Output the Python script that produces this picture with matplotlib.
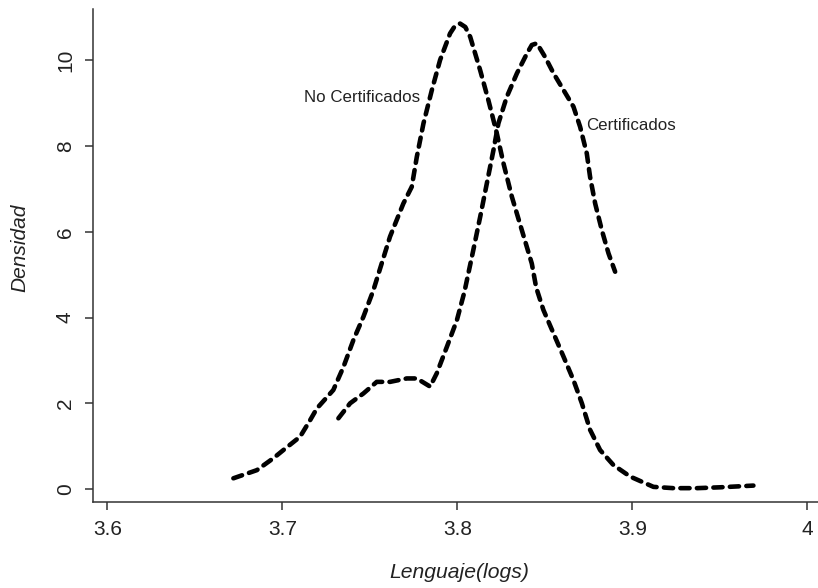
import matplotlib
matplotlib.use("Agg")
import matplotlib.pyplot as plt

plt.rcParams['font.family'] = ['Liberation Sans', 'DejaVu Sans']

# --- data ---
nc_x = [3.672, 3.6854, 3.6949, 3.7006, 3.7101, 3.7159, 3.7197, 3.7291, 3.7349, 3.7406,
        3.7463, 3.7520, 3.7615, 3.7691, 3.7739, 3.7768, 3.7806, 3.7854, 3.7901, 3.7958,
        3.7985, 3.8015, 3.8045, 3.8073, 3.8130, 3.8177, 3.8225, 3.8263, 3.8311, 3.8368,
        3.8425, 3.8450, 3.8491, 3.8549, 3.8606, 3.8663, 3.8711, 3.8758, 3.8815, 3.8891,
        3.8987, 3.9120, 3.9234, 3.9368, 3.9501, 3.9691]
nc_y = [0.25, 0.44, 0.72, 0.91, 1.22, 1.61, 1.88, 2.31, 2.85, 3.48,
        4.02, 4.64, 5.89, 6.66, 7.05, 7.75, 8.53, 9.31, 10.01, 10.63,
        10.80, 10.86, 10.78, 10.55, 9.77, 9.07, 8.30, 7.60, 6.82, 6.04,
        5.26, 4.70, 4.18, 3.63, 3.09, 2.54, 2.00, 1.38, 0.91, 0.56,
        0.29, 0.05, 0.02, 0.02, 0.04, 0.08]

c_x = [3.7320, 3.7387, 3.7463, 3.7539, 3.7615, 3.7711, 3.7768, 3.7844, 3.7882, 3.7940,
       3.7997, 3.8040, 3.8091, 3.8130, 3.8168, 3.8206, 3.8234, 3.8282, 3.8340, 3.8397,
       3.8425, 3.8454, 3.8501, 3.8549, 3.8606, 3.8663, 3.8701, 3.8739, 3.8758, 3.8787,
       3.8825, 3.8863, 3.8901]
c_y = [1.65, 2.00, 2.23, 2.50, 2.50, 2.58, 2.58, 2.39, 2.70, 3.32,
       3.94, 4.60, 5.58, 6.35, 7.13, 7.91, 8.53, 9.15, 9.70, 10.16,
       10.36, 10.40, 10.08, 9.70, 9.31, 8.92, 8.45, 7.83, 7.28, 6.66,
       6.04, 5.50, 5.07]

labels = ["No Certificados", "Certificados"]
x_ticks = [3.6, 3.7, 3.8, 3.9, 4.0]
x_ticklabels = ["3.6", "3.7", "3.8", "3.9", "4"]
y_ticks = [0, 2, 4, 6, 8, 10]

fig = plt.figure(figsize=(8.18, 5.88), dpi=100)
W, H = 818, 588
left, right, top, bottom = 93, 818, 9, 502.3
ax = fig.add_axes([left / W, 1 - bottom / H, (right - left) / W, (bottom - top) / H])

style = dict(color='black', lw=3.3, dashes=(2.0, 1.6), dash_capstyle='round',
             solid_joinstyle='round')
ax.plot(nc_x, nc_y, **style)
ax.plot(c_x, c_y, **style)

tc = '#222222'
ax.text(3.7787, 9.14, labels[0], ha='right', va='center', fontsize=12.2, color=tc)
ax.text(3.8735, 8.49, labels[1], ha='left', va='center', fontsize=12.2, color=tc)

ax.set_xlim(3.5918, 4.006)
ax.set_ylim(-0.31, 11.2)
ax.set_xticks(x_ticks)
ax.set_xticklabels(x_ticklabels)
ax.set_yticks(y_ticks)
ax.set_yticklabels([str(v) for v in y_ticks], rotation=90, va='center')

for s in ['top', 'right']:
    ax.spines[s].set_visible(False)
for s in ['left', 'bottom']:
    ax.spines[s].set_linewidth(1.1)
    ax.spines[s].set_color('#333333')

ax.tick_params(axis='both', length=6, width=1.1, color='#333333', labelsize=15,
               labelcolor=tc, pad=7)

fig.text(459 / W, 1 - 573 / H, 'Lenguaje(logs)', ha='center', va='center',
         fontsize=15.2, style='italic', color=tc)
fig.text(20 / W, 1 - 248 / H, 'Densidad', ha='center', va='center', rotation=90,
         fontsize=15, style='italic', color=tc)

fig.savefig('out.png', dpi=100)
